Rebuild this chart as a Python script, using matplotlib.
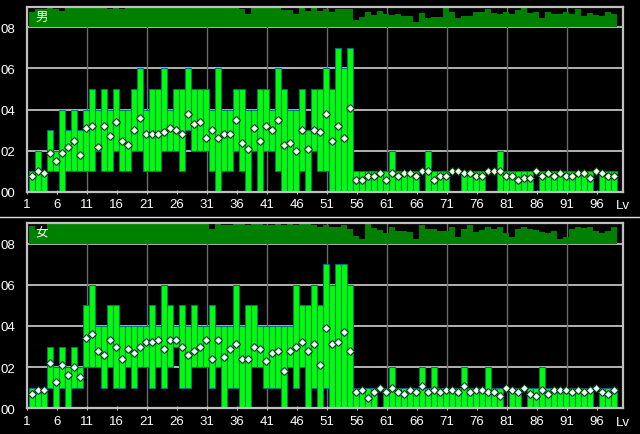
import matplotlib
matplotlib.use('Agg')
import matplotlib.pyplot as plt
from matplotlib.lines import Line2D
import numpy as np

levels = list(range(1, 99))

male_min = [0,0,0,1,1,0,1,1,1,1, 1,2,1,1,2,1,1,2,2,1, 1,1,2,2,2,1,3,2,2,2,
            1,0,1,1,2,1,0,2,0,2, 2,1,0,0,0,1,0,2,1,1, 0,0,0,0,0,0,0,0,0,0,
            0,0,0,0,0,1,0,0,0,0, 1,1,0,0,0,0,1,1,0,0, 0,0,0,0,1,0,0,0,0,0,
            0,0,0,0,1,0,0,0]
male_max = [1,2,1,3,2,4,3,4,3,4, 5,4,5,4,5,4,4,5,6,4, 5,5,6,4,5,5,6,5,5,5,
            4,6,4,4,5,5,4,4,5,5, 4,6,5,4,4,5,3,5,5,6, 5,7,6,7,1,1,1,1,1,1,
            2,1,1,1,1,1,2,1,1,1, 1,1,1,1,1,1,1,1,2,1, 1,1,1,1,1,1,1,1,1,1,
            1,1,1,1,1,1,1,1]
male_avg = [0.8,1.0,0.9,1.9,1.5,1.9,2.2,2.5,1.8,3.1, 3.2,2.2,3.2,2.7,3.4,2.5,2.3,3.0,3.6,2.8,
            2.8,2.8,2.9,3.1,3.0,2.8,3.8,3.3,3.4,2.6, 3.0,2.6,2.8,2.8,3.5,2.4,2.1,3.1,2.5,3.2,
            3.0,3.5,2.3,2.4,2.0,3.0,2.1,3.0,2.9,3.8, 2.5,3.2,2.6,4.1,0.6,0.6,0.8,0.8,0.9,0.6,
            0.9,0.8,0.9,0.9,0.8,1.0,1.0,0.6,0.8,0.8, 1.0,1.0,0.9,0.9,0.8,0.8,1.0,1.0,1.0,0.8,
            0.8,0.6,0.7,0.7,1.0,0.8,0.9,0.8,0.9,0.8, 0.8,0.9,0.9,0.7,1.0,0.9,0.8,0.8]
male_share = [0.73,0.89,0.89,1.0,0.89,0.8,1.0,1.0,1.0,1.0, 1.0,1.0,1.0,0.89,1.0,0.89,1.0,1.0,1.0,1.0,
              1.0,1.0,1.0,1.0,1.0,1.0,1.0,1.0,1.0,1.0, 1.0,1.0,1.0,1.0,1.0,0.88,0.64,1.0,1.0,1.0,
              1.0,1.0,0.82,0.84,0.64,1.0,0.8,1.0,0.8,0.89, 0.76,0.89,0.89,0.89,0.35,0.5,0.73,0.6,0.77,0.62,
              0.58,0.63,0.54,0.54,0.24,0.7,0.44,0.5,0.5,0.96, 0.76,0.47,0.54,0.54,0.73,0.73,0.86,0.7,0.63,0.73,
              0.63,0.83,0.96,0.67,0.76,0.47,0.76,0.63,0.63,0.73, 0.63,0.86,0.54,0.67,0.57,0.54,0.73,0.63]

female_min = [0,0,0,1,0,1,0,1,1,2, 2,2,1,2,1,1,2,1,2,2, 1,2,1,2,3,1,1,2,2,2,
              1,2,0,1,1,0,0,2,2,1, 1,1,0,2,1,2,0,1,0,1, 0,0,0,0,0,0,0,0,1,0,
              0,0,0,0,0,0,0,0,0,0, 0,0,0,0,0,0,0,0,0,1, 0,0,1,0,0,0,0,0,0,0,
              0,0,0,0,1,0,0,0]
female_max = [1,1,1,3,2,3,2,3,2,5, 6,4,4,5,5,4,4,4,4,4, 5,4,6,5,4,5,4,5,4,4,
              5,4,4,4,6,4,5,5,4,4, 4,4,4,4,6,5,5,6,5,7, 6,7,7,6,1,1,1,1,1,1,
              2,1,1,1,1,2,1,2,1,1, 1,1,2,1,1,1,2,1,1,1, 1,1,1,1,1,2,1,1,1,1,
              1,1,1,1,1,1,1,1]
female_avg = [0.7,0.9,0.9,2.2,1.3,2.1,1.6,2.0,1.5,3.4, 3.6,2.8,2.6,3.3,3.0,2.4,2.9,2.7,3.0,3.2,
              3.2,3.3,2.9,3.3,3.3,3.0,2.6,2.8,3.0,3.3, 2.4,3.3,2.5,2.9,3.1,2.4,2.4,3.0,2.9,2.3,
              2.7,2.8,1.8,2.8,3.0,3.2,2.8,3.1,2.1,3.9, 3.1,3.2,3.7,2.8,0.8,0.9,0.5,0.8,1.0,0.8,
              1.0,0.8,0.7,0.9,0.8,1.1,0.8,0.9,0.8,0.9, 0.9,0.8,1.1,0.8,0.9,0.9,0.8,0.8,0.6,1.0,
              0.9,0.8,1.0,0.7,0.6,0.9,0.7,0.9,0.9,0.9, 0.8,0.9,0.8,0.9,1.0,0.8,0.7,0.9]
female_share = [0.84,0.66,0.66,1.0,1.0,1.0,1.0,1.0,0.94,1.0, 1.0,1.0,1.0,1.0,0.94,0.94,1.0,1.0,1.0,1.0,
                0.94,1.0,0.94,1.0,1.0,0.94,1.0,1.0,1.0,1.0, 0.68,1.0,0.88,0.88,0.97,0.97,0.88,0.97,0.97,0.88,
                0.88,0.97,0.88,0.97,0.88,0.97,0.97,0.91,0.81,0.91, 0.78,0.78,0.88,0.68,0.36,0.2,0.97,0.75,0.65,0.49,
                0.78,0.62,0.59,0.55,0.23,0.88,0.72,0.72,0.62,0.62, 0.78,0.33,0.68,0.88,0.55,0.65,0.81,0.68,0.81,0.49,
                0.33,0.72,0.78,0.68,0.65,0.55,0.49,0.62,0.2,0.33, 0.72,0.78,0.75,0.78,0.59,0.49,0.59,0.78]

xtick_vals = list(range(1, 97, 5))
ytick_vals = [0, 2, 4, 6, 8]
ytick_labels = ['00', '02', '04', '06', '08']
panel_names = ['男', '女']

W, H = 640, 435
fig = plt.figure(figsize=(W / 100, H / 100), dpi=100, facecolor='black')

NUM_FONT = 'Liberation Sans'
CJK_FONT = ['Noto Sans CJK JP', 'DejaVu Sans']


def draw_panel(ax, mins, maxs, avgs, share, name, marker_face):
    ax.set_facecolor('black')
    ax.set_xlim(1, 100.33)
    ax.set_ylim(0, 9)
    lv = np.array(levels, dtype=float)
    left = lv + 0.433
    center = left + 0.5
    mins = np.array(mins, dtype=float)
    maxs = np.array(maxs, dtype=float)
    heights = maxs - mins
    lws = [0.8 if h > 0 else 0 for h in heights]
    for y in ytick_vals[1:]:
        ax.axhline(y, color='#c0c0c0', lw=1.3, zorder=1)
    for x in range(11, 97, 10):
        ax.axvline(x, color='#6a6a6a', lw=1.0, zorder=1)
    ax.bar(left, heights, bottom=mins, width=1.0, align='edge',
           color='#00ff00', edgecolor='#007878', linewidth=lws, zorder=2)
    ax.bar(left, share, bottom=8, width=1.0, align='edge',
           color='#008000', linewidth=0, zorder=2)
    ax.plot(center, avgs, ls='none', marker='D', ms=3.6, mfc=marker_face,
            mec='#0a3a0a', mew=0.8, zorder=3)
    for s in ax.spines.values():
        s.set_color('#c0c0c0')
        s.set_linewidth(1.6)
        s.set_zorder(4)
    ax.set_yticks(ytick_vals)
    ax.set_yticklabels(ytick_labels)
    ax.set_xticks(xtick_vals)
    ax.set_xticklabels([str(v) for v in xtick_vals])
    ax.tick_params(axis='y', length=0, pad=8.5, labelcolor='white', labelsize=9.5)
    ax.tick_params(axis='x', length=3, direction='inout', color='#c0c0c0',
                   pad=3, labelcolor='white', labelsize=9.5)
    for lab in ax.get_xticklabels() + ax.get_yticklabels():
        lab.set_fontfamily(NUM_FONT)
    ax.text(100.33, -0.35, 'Lv', ha='center', va='top', color='white',
            fontsize=9.5, family=NUM_FONT, transform=ax.transData, clip_on=False)
    ax.text(2.5, 8.5, name, ha='left', va='center', color='white',
            fontsize=9, family=CJK_FONT, zorder=5)


ax1 = fig.add_axes([26.7 / W, 1 - 193 / H, 596 / W, 185.4 / H])
ax2 = fig.add_axes([26.7 / W, 1 - 409.3 / H, 596 / W, 185.4 / H])
draw_panel(ax1, male_min, male_max, male_avg, male_share, panel_names[0], '#eaffea')
draw_panel(ax2, female_min, female_max, female_avg, female_share, panel_names[1], '#e6ffff')

fig.add_artist(Line2D([0, 1], [1 - 217.7 / H] * 2, color='#e0e0e0', lw=1.0))

fig.savefig('out.png', dpi=100, facecolor='black')
